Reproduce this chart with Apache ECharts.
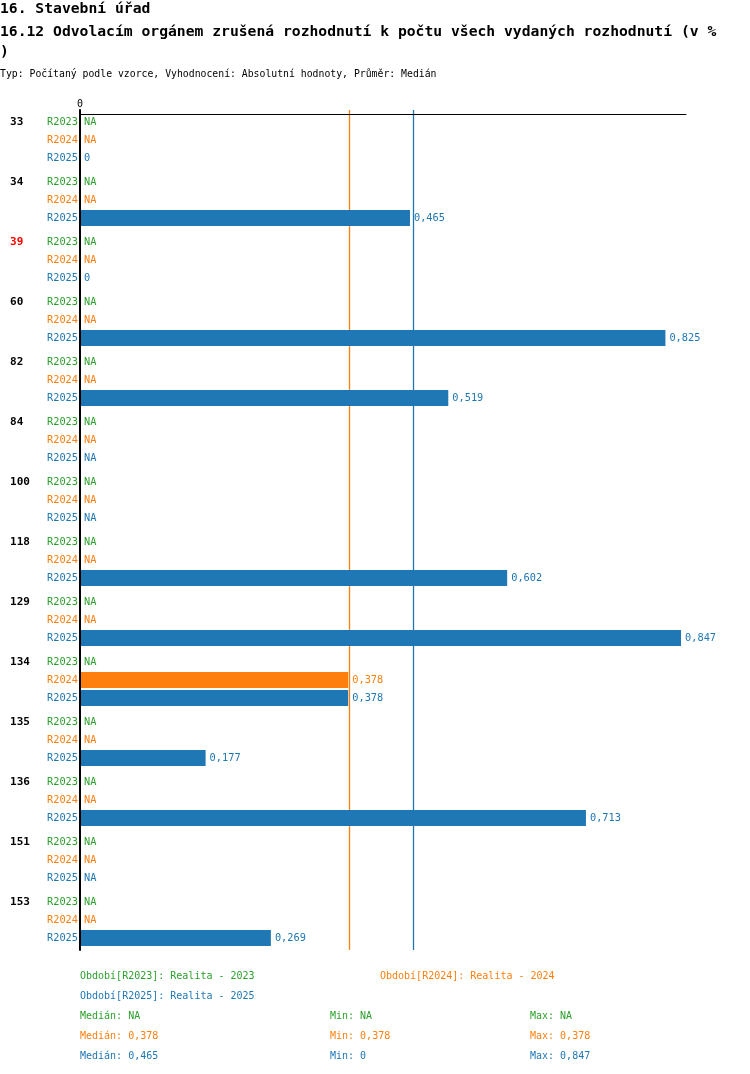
<!DOCTYPE html>
<html><head><meta charset="utf-8">
<script src="https://cdn.jsdelivr.net/npm/echarts@6/dist/echarts.min.js"></script>
<style>html,body{margin:0;padding:0;background:#fff}#c{width:750px;height:1074px}</style>
</head><body><div id="c"></div>
<script>
const titleMain = '16. Stavební úřad';
const titleSub = '16.12 Odvolacím orgánem zrušená rozhodnutí k počtu všech vydaných rozhodnutí (v %\n)';
const subInfo = 'Typ: Počítaný podle vzorce, Vyhodnocení: Absolutní hodnoty, Průměr: Medián';
const groups = ['33','34','39','60','82','84','100','118','129','134','135','136','151','153'];
const highlighted = ['39'];
const periods = ['R2023','R2024','R2025'];
const periodNames = ['Realita - 2023','Realita - 2024','Realita - 2025'];
const r2023 = [null,null,null,null,null,null,null,null,null,null,null,null,null,null];
const r2024 = [null,null,null,null,null,null,null,null,null,0.378,null,null,null,null];
const r2025 = [0,0.465,0,0.825,0.519,null,null,0.602,0.847,0.378,0.177,0.713,null,0.269];
const xTicks = [0];
const colors = ['#2ca02c','#ff7f0e','#1f77b4'];
const FONT = '"DejaVu Sans Mono", "Liberation Mono", monospace';

const seriesValues = [r2023, r2024, r2025];
const fmt = v => String(v).replace('.', ',');
function stats(arr){
  const v = arr.filter(x => x !== null).sort((a,b)=>a-b);
  if (!v.length) return {med:null,min:null,max:null};
  const n = v.length;
  const med = n%2 ? v[(n-1)/2] : (v[n/2-1]+v[n/2])/2;
  return {med, min:v[0], max:v[n-1]};
}
const st = seriesValues.map(stats);
const show = v => v === null ? 'NA' : fmt(+v.toFixed(3));

const chart = echarts.init(document.getElementById('c'), null, {renderer:'canvas'});

const series = periods.map((p,i) => ({
  name: p,
  type: 'bar',
  z: 5,
  barWidth: 16,
  barGap: '12.5%',
  barCategoryGap: 6,
  itemStyle: {color: colors[i]},
  label: {
    show: true, position: 'right', distance: 4,
    color: colors[i], fontFamily: FONT, fontSize: 10.3,
    formatter: prm => prm.data.na ? 'NA' : fmt(prm.value)
  },
  data: seriesValues[i].map(v => v === null ? {value: 0, na: true} : {value: v})
}));

const medLines = [];
st.forEach((s,i) => {
  if (s.med !== null) medLines.push({xAxis: s.med, lineStyle: {color: colors[i], width: 1.3, type: 'solid', opacity: 1}});
});
series.push({
  name: 'median', type: 'line', data: [], z: 0, silent: true,
  markLine: {
    silent: true, z: 0, symbol: ['none','none'], animation: false,
    emphasis: {disabled: true},
    label: {show: false},
    data: medLines
  }
});

const graphics = [];
const legY = [977, 977, 997];
const legX = [80, 380, 80];
periods.forEach((p,i) => {
  graphics.push({type:'text', left: legX[i], top: legY[i]-6,
    style:{text:'Období['+p+']: '+periodNames[i], fill: colors[i], font: '10px '+FONT}});
  const y = 1017 + i*20 - 6;
  graphics.push({type:'text', left: 80, top: y, style:{text:'Medián: '+show(st[i].med), fill: colors[i], font:'10px '+FONT}});
  graphics.push({type:'text', left: 330, top: y, style:{text:'Min: '+show(st[i].min), fill: colors[i], font:'10px '+FONT}});
  graphics.push({type:'text', left: 530, top: y, style:{text:'Max: '+show(st[i].max), fill: colors[i], font:'10px '+FONT}});
});

chart.setOption({
  animation: false,
  backgroundColor: '#fff',
  title: [
    {text: titleMain, left: 0, top: 2, padding: 0,
     textStyle:{fontFamily: FONT, fontSize: 14.7, fontWeight: 'bold', color:'#000'}},
    {text: titleSub, left: 0, top: 22, padding: 0,
     textStyle:{fontFamily: FONT, fontSize: 14.7, fontWeight: 'bold', color:'#000', lineHeight: 20}},
    {text: subInfo, left: 0, top: 69, padding: 0,
     textStyle:{fontFamily: FONT, fontSize: 9.8, fontWeight: 'normal', color:'#000'}}
  ],
  grid: {left: 80, width: 606, top: 110, height: 840},
  xAxis: {
    type: 'value', position: 'top', min: 0, max: 0.854, interval: 0.854, offset: -4,
    axisLine: {show: true, lineStyle: {color: '#000', width: 1}},
    axisTick: {show: false},
    splitLine: {show: false},
    axisLabel: {margin: 5, color: '#000', fontFamily: FONT, fontSize: 10,
      formatter: v => xTicks.includes(v) ? String(v) : ''}
  },
  yAxis: {
    type: 'category', inverse: true, data: groups, z: 6,
    axisLine: {show: true, onZero: false, lineStyle: {color: '#000', width: 2}},
    axisTick: {show: false},
    axisLabel: {
      margin: 2, interval: 0,
      formatter: g => '{' + (highlighted.includes(g) ? 'h' : 'g') + '|' + g + '}{a|' + periods[0] + '}\n{b|' + periods[1] + '}\n{c|' + periods[2] + '}',
      rich: {
        g: {width: 37, align: 'left', fontFamily: FONT, fontSize: 11, fontWeight: 'bold', color: '#000', lineHeight: 18},
        h: {width: 37, align: 'left', fontFamily: FONT, fontSize: 11, fontWeight: 'bold', color: '#ff0000', lineHeight: 18},
        a: {align: 'right', fontFamily: FONT, fontSize: 10.3, color: colors[0], lineHeight: 18},
        b: {align: 'right', fontFamily: FONT, fontSize: 10.3, color: colors[1], lineHeight: 18},
        c: {align: 'right', fontFamily: FONT, fontSize: 10.3, color: colors[2], lineHeight: 18}
      }
    }
  },
  series: series,
  graphic: graphics
});
</script></body></html>
